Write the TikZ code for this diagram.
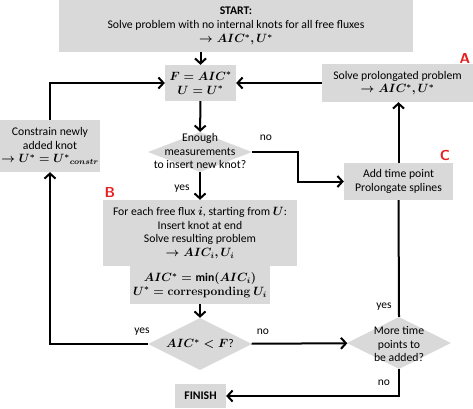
\documentclass[tikz,border=0pt]{standalone}
\usepackage{fontspec}
\setmainfont{Carlito}
\usepackage{amsmath}
\usetikzlibrary{shapes.geometric,arrows.meta}
\definecolor{boxgray}{RGB}{217,217,217}
\definecolor{markred}{RGB}{230,30,30}

\begin{document}
\begin{tikzpicture}[x=1pt, y=-1pt,
    txt/.style={font=\fontsize{11.7}{13.8}\selectfont\boldmath, align=center, inner sep=0pt},
    stepbox/.style={txt, fill=boxgray, minimum width=#1},
    decision/.style={diamond, fill=boxgray, inner sep=0pt, minimum width=104, minimum height=52},
    flow/.style={line width=2pt, -{Straight Barb[length=5pt,width=11pt]}},
    plain/.style={line width=2pt},
    tag/.style={font=\sffamily\bfseries\Large, text=markred, inner sep=0pt},
    answer/.style={font=\fontsize{11.5}{12}\selectfont, inner sep=0pt}]
    \useasboundingbox (0,0) rectangle (473,408);

    % boxes
    \node[stepbox=354, minimum height=52] (start) at (236,26) {\textbf{START:}\\Solve problem with no internal knots for all free fluxes\\$\rightarrow AIC^*, U^*$};
    \node[stepbox=71, minimum height=36] (fu) at (200.5,83) {$F = AIC^*$\\$U = U^*$};
    \node[stepbox=151, minimum height=38] (solve) at (397.5,83) {Solve prolongated problem\\$\rightarrow AIC^*, U^*$};
    \node[stepbox=100, minimum height=52] (constrain) at (50,146) {Constrain newly\\added knot\\$\rightarrow U^* = {U^*}_{constr}$};
    \node[stepbox=109, minimum height=37] (addtp) at (398.5,181.5) {Add time point\\Prolongate splines};
    \node[stepbox=194, minimum height=66] (foreach) at (200,233) {For each free flux $i$, starting from $U$:\\Insert knot at end\\Solve resulting problem\\$\rightarrow AIC_i, U_i$};
    \node[stepbox=140, minimum height=38] (best) at (200,285) {$AIC^* = \min(AIC_i)$\\$U^* = \mathbf{corresponding}\ U_i$};
    \node[stepbox=51, minimum height=24] (finish) at (200.5,396) {\textbf{FINISH}};

    % decisions
    \node[decision, minimum height=40] (enough) at (200,152) {};
    \node[txt] (enoughtext) at (200,151) {Enough\\measurements\\to insert new knot?};
    \node[decision] (aic) at (200,344) {};
    \node[txt] (aictext) at (200,344) {$AIC^* < F$?};
    \node[decision] (more) at (399,343) {};
    \node[txt] (moretext) at (399,344) {More time\\points to\\be added?};

    % markers
    \node[tag] (markA) at (465,58) {A};
    \node[tag] (markB) at (110,192) {B};
    \node[tag] (markC) at (445,155) {C};

    % connectors
    \draw[flow] (start.south -| fu) -- (fu);
    \draw[flow] (solve) -- (fu);
    \draw[flow] (constrain.north) |- (fu.west);
    \draw[flow] (fu) -- (enough);
    \draw[flow] (enough.east) -- ++(46,0) |- (addtp.west);
    \draw[flow] (enough) -- (foreach);
    \draw[flow] (best) -- (aic);
    \draw[flow] (aic.west) -| (constrain.south);
    \draw[flow] (aic) -- (more);
    \draw[plain] (more.north) -- (addtp.south);
    \draw[flow] (addtp.north) -- (addtp.north |- solve.south);
    \draw[flow] (more.south) |- (finish.east);

    % answers
    \node[answer] (no1) at (266,138) {no};
    \node[answer] (yes1) at (182,189) {yes};
    \node[answer] (yes2) at (142,332) {yes};
    \node[answer] (no2) at (263,332) {no};
    \node[answer] (yes3) at (384,307) {yes};
    \node[answer] (no3) at (384,383) {no};
\end{tikzpicture}
\end{document}
